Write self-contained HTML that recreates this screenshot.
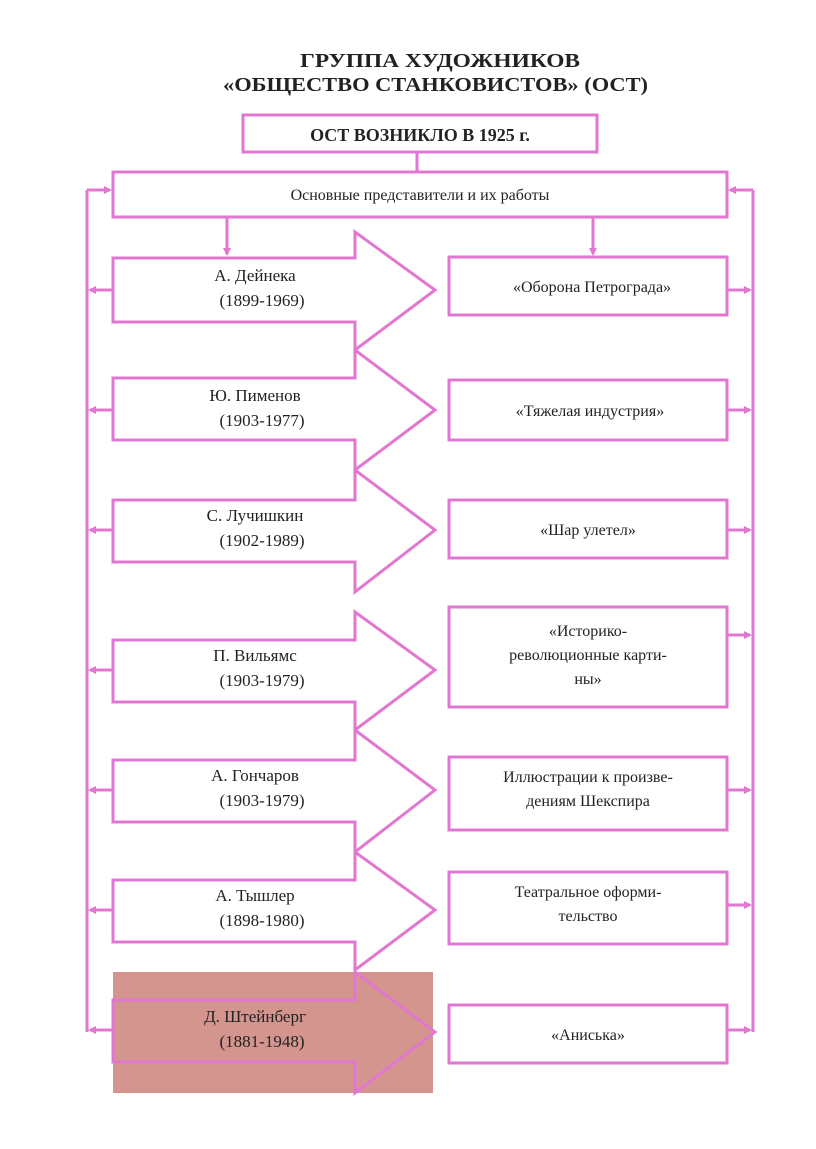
<!DOCTYPE html>
<html><head><meta charset="utf-8"><style>
html,body{margin:0;padding:0;background:#fff;}
svg{display:block;}
text{font-family:"Liberation Serif",serif;fill:#222;}
</style></head><body>
<svg width="816" height="1149" viewBox="0 0 816 1149" xmlns="http://www.w3.org/2000/svg">
<defs>
<marker id="a" markerWidth="8" markerHeight="8" refX="6" refY="4" orient="auto" markerUnits="userSpaceOnUse"><path d="M0,0 L8,4 L0,8 z" fill="#e277d2"/></marker>
</defs>
<text x="300" y="67" font-size="20" font-weight="bold" textLength="280" lengthAdjust="spacingAndGlyphs">ГРУППА ХУДОЖНИКОВ</text>
<text x="223" y="91" font-size="20" font-weight="bold" textLength="425" lengthAdjust="spacingAndGlyphs">«ОБЩЕСТВО СТАНКОВИСТОВ»  (ОСТ)</text>
<rect x="113" y="972" width="320" height="121" fill="#d4958f"/>
<g fill="none" stroke="#e277d2" stroke-width="3">
<rect x="243" y="115" width="354" height="37"/>
<rect x="113" y="172" width="614" height="45"/>
<line x1="417" y1="152" x2="417" y2="172"/>
<line x1="227" y1="217" x2="227" y2="254" marker-end="url(#a)"/>
<line x1="593" y1="217" x2="593" y2="254" marker-end="url(#a)"/>
<line x1="87" y1="190" x2="87" y2="1032"/>
<line x1="753" y1="190" x2="753" y2="1032"/>
<line x1="87" y1="190" x2="110" y2="190" marker-end="url(#a)"/>
<line x1="753" y1="190" x2="730" y2="190" marker-end="url(#a)"/>
<path d="M113,258 H355 V232 L435,290 L355,350 V322 H113 Z"/>
<path d="M113,378 H355 V350 L435,410 L355,470 V440 H113 Z"/>
<path d="M113,500 H355 V470 L435,530 L355,592 V562 H113 Z"/>
<path d="M113,640 H355 V612 L435,670 L355,730 V702 H113 Z"/>
<path d="M113,760 H355 V730 L435,790 L355,852 V822 H113 Z"/>
<path d="M113,880 H355 V852 L435,910 L355,970 V942 H113 Z"/>
<path d="M113,1000 H355 V972 L435,1032 L355,1093 V1062 H113 Z"/>
<rect x="449" y="257" width="278" height="58"/>
<rect x="449" y="380" width="278" height="60"/>
<rect x="449" y="500" width="278" height="58"/>
<rect x="449" y="607" width="278" height="100"/>
<rect x="449" y="757" width="278" height="73"/>
<rect x="449" y="872" width="278" height="72"/>
<rect x="449" y="1005" width="278" height="58"/>
<line x1="113" y1="290" x2="90" y2="290" marker-end="url(#a)"/>
<line x1="113" y1="410" x2="90" y2="410" marker-end="url(#a)"/>
<line x1="113" y1="530" x2="90" y2="530" marker-end="url(#a)"/>
<line x1="113" y1="670" x2="90" y2="670" marker-end="url(#a)"/>
<line x1="113" y1="790" x2="90" y2="790" marker-end="url(#a)"/>
<line x1="113" y1="910" x2="90" y2="910" marker-end="url(#a)"/>
<line x1="113" y1="1030" x2="90" y2="1030" marker-end="url(#a)"/>
<line x1="727" y1="290" x2="750" y2="290" marker-end="url(#a)"/>
<line x1="727" y1="410" x2="750" y2="410" marker-end="url(#a)"/>
<line x1="727" y1="530" x2="750" y2="530" marker-end="url(#a)"/>
<line x1="727" y1="635" x2="750" y2="635" marker-end="url(#a)"/>
<line x1="727" y1="790" x2="750" y2="790" marker-end="url(#a)"/>
<line x1="727" y1="905" x2="750" y2="905" marker-end="url(#a)"/>
<line x1="727" y1="1030" x2="750" y2="1030" marker-end="url(#a)"/>
</g>
<text x="420" y="141" font-size="18" font-weight="bold" text-anchor="middle">ОСТ ВОЗНИКЛО В 1925 г.</text>
<text x="420" y="200" font-size="16" text-anchor="middle">Основные представители и их работы</text>
<g font-size="17" text-anchor="middle">
<text x="255" y="281">А. Дейнека</text><text x="262" y="306">(1899-1969)</text>
<text x="255" y="401">Ю. Пименов</text><text x="262" y="426">(1903-1977)</text>
<text x="255" y="521">С. Лучишкин</text><text x="262" y="546">(1902-1989)</text>
<text x="255" y="661">П. Вильямс</text><text x="262" y="686">(1903-1979)</text>
<text x="255" y="781">А. Гончаров</text><text x="262" y="806">(1903-1979)</text>
<text x="255" y="901">А. Тышлер</text><text x="262" y="926">(1898-1980)</text>
<text x="255" y="1022">Д. Штейнберг</text><text x="262" y="1047">(1881-1948)</text>
</g>
<g font-size="16" text-anchor="middle">
<text x="592" y="292">«Оборона Петрограда»</text>
<text x="590" y="416">«Тяжелая индустрия»</text>
<text x="588" y="535">«Шар улетел»</text>
<text x="588" y="636">«Историко-</text><text x="588" y="660">революционные карти-</text><text x="588" y="684">ны»</text>
<text x="588" y="782">Иллюстрации к произве-</text><text x="588" y="806">дениям Шекспира</text>
<text x="588" y="897">Театральное оформи-</text><text x="588" y="921">тельство</text>
<text x="588" y="1040">«Аниська»</text>
</g>
</svg>
</body></html>
